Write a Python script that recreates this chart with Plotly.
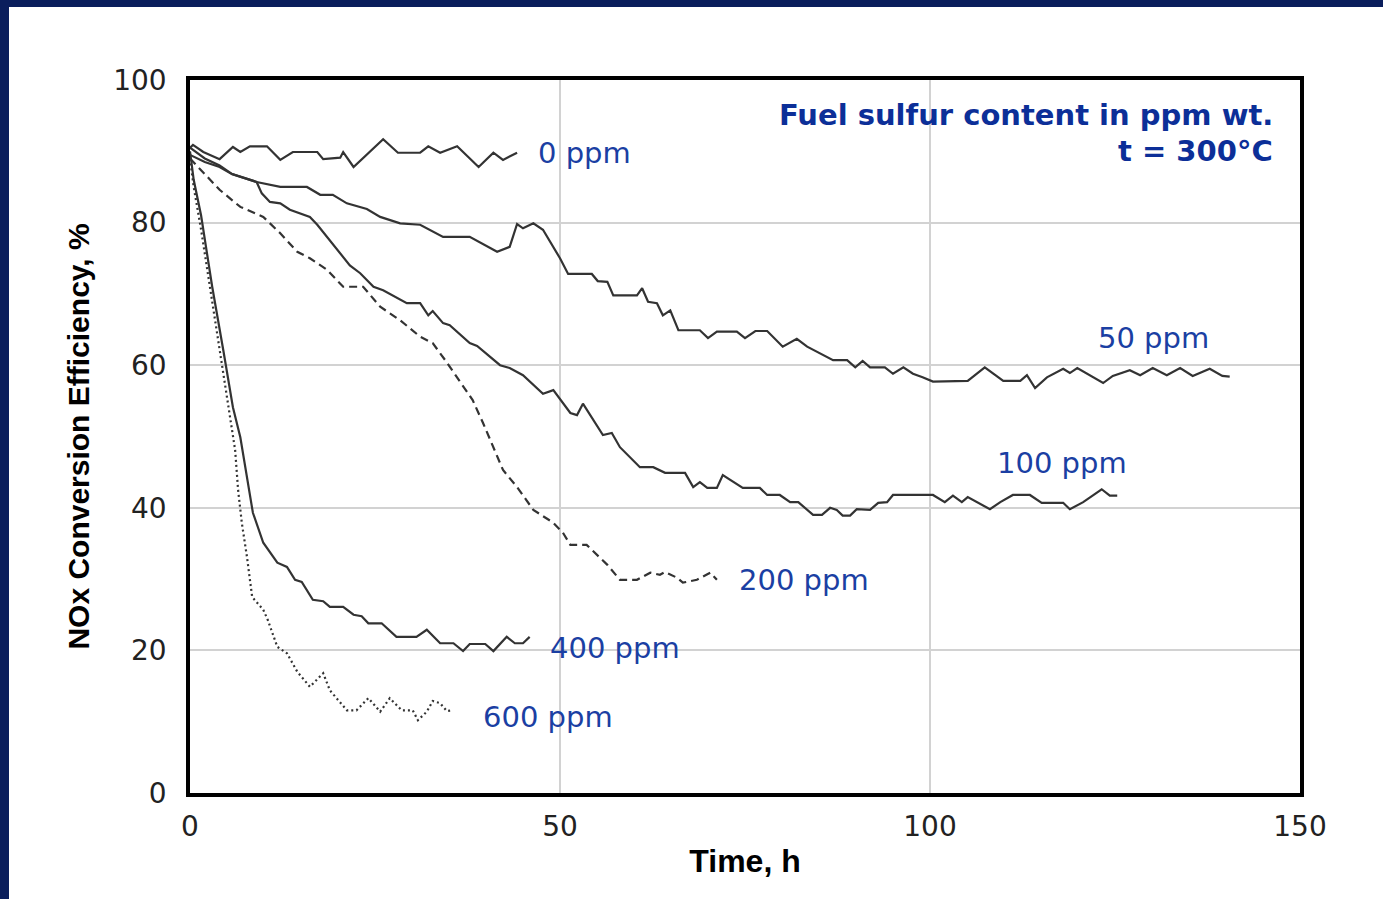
import plotly.graph_objects as go

# ---------------- data ----------------
t_0ppm = [0, 0.4, 1.8, 4.0, 5.8, 6.8, 8.1, 10.4, 12.2, 13.9, 17.2, 18.0, 20.3, 20.7, 22.1, 26.1,
          28.1, 31.1, 32.2, 33.8, 36.1, 39.0, 41.0, 42.3, 44.2]
v_0ppm = [90.5, 90.9, 89.9, 88.9, 90.6, 89.9, 90.7, 90.7, 88.8, 89.9, 89.9, 88.9, 89.1, 89.9, 87.8, 91.7,
          89.8, 89.8, 90.7, 89.8, 90.7, 87.8, 89.8, 88.8, 89.8]

t_50ppm = [0, 2.0, 4.0, 5.7, 9.0, 12.2, 15.8, 17.6, 19.3, 21.2, 23.9, 25.7, 28.4, 31.1, 34.2, 37.8,
           41.5, 43.2, 44.2, 45.0, 46.4, 47.7, 50.0, 51.1, 54.3, 55.1, 56.4, 57.2, 60.4, 61.1, 61.9,
           63.1, 63.9, 64.9, 66.0, 68.9, 70.0, 71.2, 73.9, 75.0, 76.4, 78.0, 80.1, 82.0, 83.4, 85.1,
           86.9, 88.8, 89.9, 90.9, 91.9, 93.9, 95.0, 96.4, 97.7, 99.0, 100.4, 105.1, 107.4, 109.9,
           112.2, 113.1, 114.2, 115.8, 118.0, 118.9, 119.9, 123.4, 124.7, 127.0, 128.4, 130.1, 132.0,
           133.8, 135.5, 137.8, 139.5, 140.5]
v_50ppm = [90.5, 89.0, 88.0, 86.8, 85.7, 85.0, 85.0, 83.9, 83.9, 82.7, 81.9, 80.8, 79.9, 79.7, 78.0, 78.0,
           75.9, 76.6, 79.8, 79.2, 79.9, 79.0, 75.0, 72.8, 72.8, 71.8, 71.7, 69.8, 69.8, 70.8, 68.9,
           68.7, 67.0, 67.7, 64.9, 64.9, 63.8, 64.7, 64.7, 63.8, 64.8, 64.8, 62.6, 63.7, 62.6, 61.7,
           60.7, 60.7, 59.7, 60.6, 59.7, 59.7, 58.8, 59.7, 58.8, 58.3, 57.7, 57.8, 59.7, 57.8,
           57.8, 58.6, 56.8, 58.3, 59.5, 58.9, 59.6, 57.5, 58.5, 59.3, 58.6, 59.6, 58.6,
           59.6, 58.5, 59.5, 58.5, 58.4]

t_100ppm = [0, 2.0, 4.0, 5.7, 9.0, 9.7, 10.8, 12.2, 13.5, 16.2, 17.2, 18.5, 20.3, 21.6, 23.0, 24.8,
            26.1, 27.7, 29.3, 31.1, 32.2, 32.8, 34.2, 35.1, 37.8, 38.8, 41.9, 43.2, 45.0, 47.7,
            49.1, 51.4, 52.3, 53.1, 55.8, 57.0, 58.1, 60.8, 62.6, 64.2, 66.9, 68.0, 68.9, 69.9,
            71.2, 72.0, 74.7, 77.0, 78.0, 79.7, 81.1, 82.2, 84.2, 85.4, 86.5, 87.4, 88.2, 89.2,
            90.1, 91.9, 93.0, 94.2, 95.0, 100.4, 102.0, 103.1, 104.3, 105.1, 108.1, 109.5, 111.2,
            113.5, 115.1, 118.0, 118.9, 120.7, 123.2, 124.3, 125.3]
v_100ppm = [89.5, 88.5, 87.8, 86.8, 85.7, 84.1, 82.9, 82.7, 81.8, 80.8, 79.7, 78.0, 75.8, 74.0, 72.9, 71.0,
            70.5, 69.6, 68.7, 68.7, 67.0, 67.6, 65.9, 65.6, 63.1, 62.7, 60.0, 59.6, 58.6, 56.0,
            56.5, 53.3, 53.0, 54.6, 50.2, 50.5, 48.5, 45.7, 45.7, 44.9, 44.9, 42.9, 43.6, 42.8,
            42.8, 44.6, 42.8, 42.8, 41.8, 41.8, 40.8, 40.8, 39.0, 39.0, 40.0, 39.7, 38.9, 38.9,
            39.8, 39.7, 40.7, 40.8, 41.8, 41.8, 40.8, 41.7, 40.8, 41.5, 39.8, 40.8, 41.8,
            41.8, 40.7, 40.7, 39.8, 40.8, 42.6, 41.7, 41.7]

t_200ppm = [0, 1.8, 4.0, 6.8, 9.9, 12.2, 14.5, 16.2, 18.5, 20.7, 23.4, 25.7, 28.4, 31.1, 32.8, 34.7,
            36.9, 38.2, 39.6, 41.0, 42.3, 44.2, 46.4, 49.1, 50.4, 51.4, 53.6, 56.4, 58.1, 60.4,
            62.2, 63.5, 64.2, 65.8, 66.6, 68.5, 70.3, 71.2]
v_200ppm = [89.0, 87.0, 84.6, 82.2, 80.8, 78.5, 75.9, 75.0, 73.4, 71.0, 71.0, 68.2, 66.3, 64.0, 63.1, 60.4,
            57.0, 55.1, 51.9, 48.5, 45.3, 42.9, 39.7, 37.9, 36.5, 34.8, 34.8, 32.0, 29.9, 29.9,
            30.9, 30.6, 31.0, 30.2, 29.5, 29.9, 30.9, 29.9]

t_400ppm = [0, 0.5, 1.5, 3.0, 4.5, 5.8, 6.8, 7.7, 8.5, 9.9, 11.8, 13.1, 14.2, 15.1, 16.6, 18.0, 18.9,
            20.7, 22.1, 23.2, 24.1, 25.9, 27.9, 30.6, 32.0, 33.8, 35.6, 36.9, 37.8, 39.9, 41.0,
            42.8, 43.9, 45.0, 45.9]
v_400ppm = [90.0, 86.0, 81.0, 71.0, 62.1, 54.1, 49.9, 44.3, 39.3, 35.1, 32.3, 31.7, 29.9, 29.6, 27.1, 26.9, 26.1,
            26.1, 25.0, 24.8, 23.8, 23.8, 21.9, 21.9, 22.9, 21.0, 21.0, 19.9, 20.9, 20.9, 19.9,
            21.9, 21.0, 21.0, 21.9]

t_600ppm = [0, 0.5, 1.5, 3.0, 4.5, 5.4, 6.1, 6.5, 7.0, 7.7, 8.4, 9.9, 10.5, 11.8, 13.1, 14.5, 16.2,
            18.0, 18.9, 21.2, 22.5, 24.1, 25.7, 27.0, 28.6, 30.1, 30.8, 32.0, 32.8, 33.8, 34.7, 35.5]
v_600ppm = [89.0, 85.0, 79.0, 69.0, 59.3, 52.7, 48.1, 42.5, 37.9, 33.1, 27.5, 25.7, 24.3, 20.5, 19.6, 17.0, 14.9,
            16.8, 14.4, 11.6, 11.6, 13.3, 11.4, 13.3, 11.6, 11.6, 10.2, 11.4, 12.9, 12.6, 11.5, 11.6]

series_names = ["0 ppm", "50 ppm", "100 ppm", "200 ppm", "400 ppm", "600 ppm"]
x_ticks = [0, 50, 100, 150]
y_ticks = [0, 20, 40, 60, 80, 100]

# ---------------- figure ----------------
W, H = 1383, 899
ML, MR, MT, MB = 190, 83, 80, 106
LINE = "#333333"
BLUE = "#1b3fa3"
TITLE_BLUE = "#0c2f98"
NAVY = "#0a1e5c"

series = [
    (t_0ppm, v_0ppm, "solid"),
    (t_50ppm, v_50ppm, "solid"),
    (t_100ppm, v_100ppm, "solid"),
    (t_200ppm, v_200ppm, "8px,5px"),
    (t_400ppm, v_400ppm, "solid"),
    (t_600ppm, v_600ppm, "2px,3px"),
]

fig = go.Figure()
for (tx, vy, dash), name in zip(series, series_names):
    fig.add_trace(go.Scatter(x=tx, y=vy, mode="lines", name=name,
                             line=dict(color=LINE, width=2.2, dash=dash),
                             showlegend=False))

# curve labels (position of each label's left edge, in data units)
label_pos = {
    "0 ppm": (46.8, 89.8),
    "50 ppm": (122.4, 63.8),
    "100 ppm": (108.8, 46.3),
    "200 ppm": (73.9, 29.9),
    "400 ppm": (48.4, 20.3),
    "600 ppm": (39.3, 10.7),
}
for name in series_names:
    lx, ly = label_pos[name]
    fig.add_annotation(x=lx, y=ly, text=name, showarrow=False, xanchor="left", yanchor="middle",
                       font=dict(family="DejaVu Sans", size=29, color=BLUE))

fig.add_annotation(x=146.6, y=95.1, text="Fuel sulfur content in ppm wt.", showarrow=False,
                   xanchor="right", yanchor="middle",
                   font=dict(family="DejaVu Sans", size=29, color=TITLE_BLUE, weight="bold"))
fig.add_annotation(x=146.6, y=90.0, text="t = 300°C", showarrow=False,
                   xanchor="right", yanchor="middle",
                   font=dict(family="DejaVu Sans", size=29, color=TITLE_BLUE, weight="bold"))

pw = W - ML - MR
ph = H - MT - MB
# navy frame (left and top bands)
fig.add_shape(type="rect", xref="paper", yref="paper",
              x0=-ML / pw, x1=(-ML + 9) / pw, y0=-MB / ph, y1=1 + MT / ph,
              fillcolor=NAVY, line=dict(width=0), layer="above")
fig.add_shape(type="rect", xref="paper", yref="paper",
              x0=-ML / pw, x1=1 + MR / pw, y0=1 + (MT - 7) / ph, y1=1 + MT / ph,
              fillcolor=NAVY, line=dict(width=0), layer="above")

axis_common = dict(showgrid=True, gridcolor="#d2d2d2", gridwidth=2, zeroline=False,
                   showline=True, linecolor="black", linewidth=3.5, mirror=True, ticks="",
                   tickfont=dict(family="DejaVu Sans", size=28, color="#222222"))

fig.update_layout(
    width=W, height=H,
    margin=dict(l=ML, r=MR, t=MT, b=MB, pad=0),
    paper_bgcolor="white", plot_bgcolor="white",
    xaxis=dict(range=[0, 150], tickvals=x_ticks, ticklabelstandoff=6,
               title=dict(text="Time, h", standoff=8,
                          font=dict(family="Liberation Sans", size=32, color="black", weight="bold")),
               **axis_common),
    yaxis=dict(range=[0, 100], tickvals=y_ticks, ticklabelstandoff=14,
               title=dict(text="NOx Conversion Efficiency, %", standoff=16,
                          font=dict(family="Liberation Sans", size=30, color="black", weight="bold")),
               **axis_common),
)

fig.write_html("out.html", config={"displayModeBar": False},
               post_script="document.body.style.margin='0';document.body.style.overflow='hidden';")
